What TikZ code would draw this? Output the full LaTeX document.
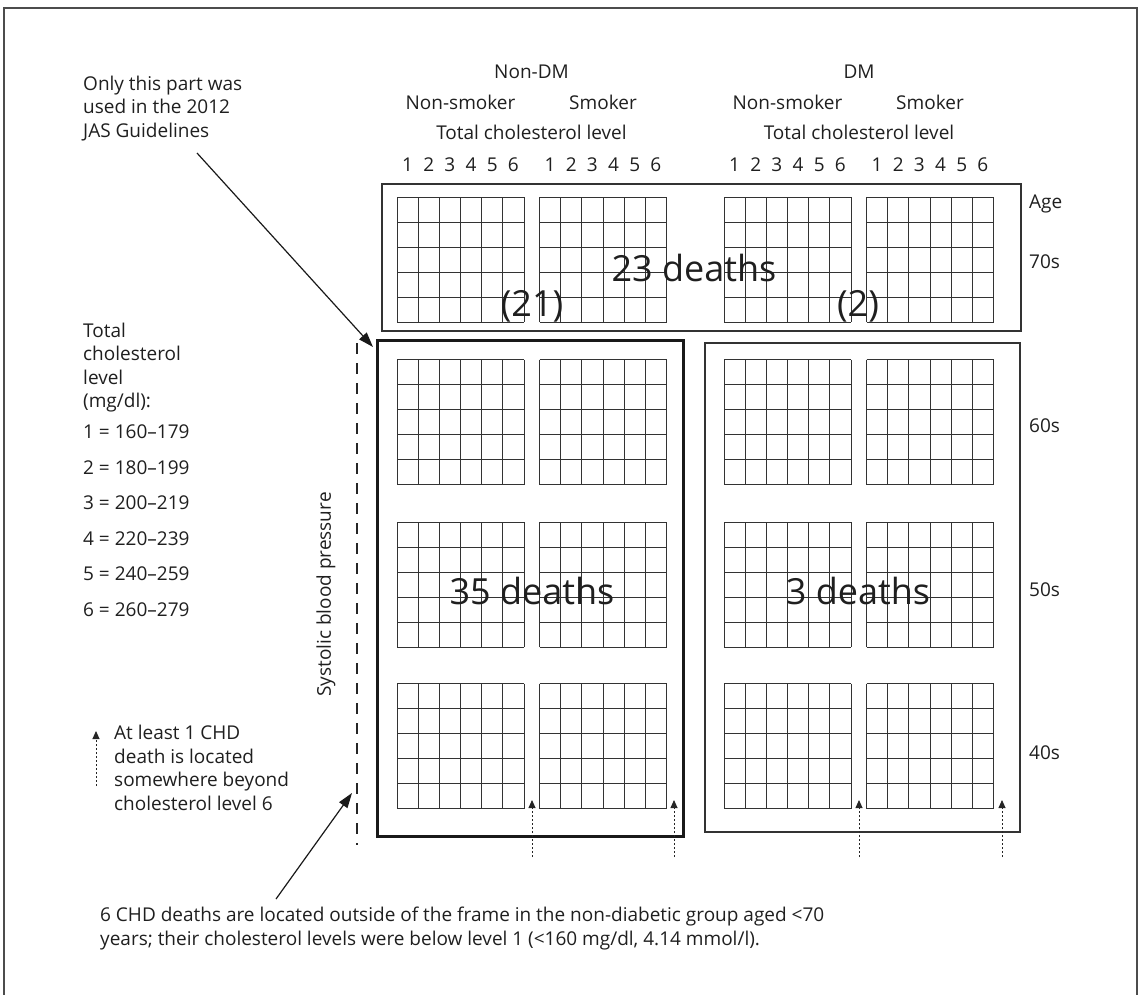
\documentclass[tikz,border=0pt]{standalone}
\usepackage{fontspec}
\setmainfont{Open Sans}
\usetikzlibrary{arrows.meta}
\newcommand\cholgrid[2]{%
  \begin{scope}[shift={(#1,#2)}]
    \foreach \i in {0,...,6} \draw[gridline] ({\i*127/6},0) -- ({\i*127/6},125);
    \foreach \j in {0,...,5} \draw[gridline] (0,{\j*25}) -- (127,{\j*25});
  \end{scope}}
\begin{document}
\begin{tikzpicture}[x=1pt,y=-1pt,
  lbl/.style={font=\fontsize{19}{23.5}\selectfont, inner sep=0pt, text=black!88},
  big/.style={font=\fontsize{36}{40}\selectfont, inner sep=0pt, text=black!88},
  gridline/.style={draw=black!80, line width=0.9pt},
  thinbox/.style={draw=black!80, line width=1.4pt},
  thickbox/.style={draw=black!90, line width=3pt},
  ptr/.style={draw=black!90, line width=1.2pt, -{Triangle[length=15pt,width=10pt]}},
  dotarrow/.style={draw=black!85, line width=0.9pt, dash pattern=on 2pt off 2pt, -{Triangle[length=8pt,width=7pt]}},
  vdash/.style={draw=black!85, line width=1.2pt, dash pattern=on 11pt off 9pt}]
\useasboundingbox (0,0) rectangle (1141,994);
% outer frame
\draw[draw=black!70, line width=1.2pt] (4,1000) -- (4,8) -- (1137,8) -- (1137,1000);
% boxes
\draw[thinbox] (382,184) rectangle (1021,331);
\draw[thickbox] (377,340) rectangle (683,836);
\draw[thinbox] (705,343) rectangle (1020,832);
% grids
\foreach \gx in {397,539.5,724,866.5} {
  \foreach \gy in {197,359.5,522,683.5} {
    \cholgrid{\gx}{\gy}
  }
}
% header
\node[lbl, anchor=base] (nondm) at (531.5,78.5) {Non-DM};
\node[lbl, anchor=base] (dm) at (859,78.5) {DM};
\node[lbl, anchor=base] (ns1) at (460.5,109.5) {Non-smoker};
\node[lbl, anchor=base] (sm1) at (603,109.5) {Smoker};
\node[lbl, anchor=base] (ns2) at (787.5,109.5) {Non-smoker};
\node[lbl, anchor=base] (sm2) at (930,109.5) {Smoker};
\node[lbl, anchor=base] (tc1) at (531.5,139.5) {Total cholesterol level};
\node[lbl, anchor=base] (tc2) at (859,139.5) {Total cholesterol level};
\foreach \gx [count=\g] in {397,539.5,724,866.5} {
  \foreach \k in {1,...,6} {
    \node[lbl, anchor=base] (num\g-\k) at ({\gx+(\k-0.5)*127/6},171.5) {\k};
  }
}
% ages
\node[lbl, anchor=base west] (age) at (1029,208.5) {Age};
\node[lbl, anchor=base west] (a70) at (1029,268.5) {70s};
\node[lbl, anchor=base west] (a60) at (1029,432.5) {60s};
\node[lbl, anchor=base west] (a50) at (1029,596.5) {50s};
\node[lbl, anchor=base west] (a40) at (1029,759.5) {40s};
% big labels
\node[big, anchor=base] (d23) at (694,281) {23 deaths};
\node[big, anchor=base] (p21) at (532,316) {(21)};
\node[big, anchor=base] (p2) at (858,316) {(2)};
\node[big, anchor=base] (d35) at (532,604) {35 deaths};
\node[big, anchor=base] (d3) at (858,604) {3 deaths};
% left notes (base anchor = baseline of the last line)
\node[lbl, anchor=base west, align=left] (only) at (83,137) {Only this part was\\used in the 2012\\JAS Guidelines};
\node[lbl, anchor=base west, align=left] (tcl) at (83,407.5) {Total\\cholesterol\\level\\(mg/dl):};
\node[lbl, anchor=base west] (l1) at (83,438.5) {1 = 160–179};
\node[lbl, anchor=base west] (l2) at (83,474) {2 = 180–199};
\node[lbl, anchor=base west] (l3) at (83,509.5) {3 = 200–219};
\node[lbl, anchor=base west] (l4) at (83,545) {4 = 220–239};
\node[lbl, anchor=base west] (l5) at (83,580.5) {5 = 240–259};
\node[lbl, anchor=base west] (l6) at (83,616.5) {6 = 260–279};
\node[lbl, anchor=base west, align=left] (atleast) at (114,810) {At least 1 CHD\\death is located\\somewhere beyond\\cholesterol level 6};
\node[lbl, rotate=90, anchor=center] (sbp) at (326,594.5) {Systolic blood pressure};
\node[lbl, anchor=base west, align=left] (six) at (100,945) {6 CHD deaths are located outside of the frame in the non-diabetic group aged <70\\years; their cholesterol levels were below level 1 (<160 mg/dl, 4.14 mmol/l).};
% dashed line
\coordinate (dtop) at (357,343);
\coordinate (dbot) at (357,845);
\draw[vdash] (dtop) -- (dbot);
% pointer arrows
\coordinate (onlytail) at (197,153);
\coordinate (onlytip) at (373,347);
\draw[ptr] (onlytail) -- (onlytip);
\coordinate (sixtail) at (276,899);
\coordinate (sixtip) at (352,793);
\draw[ptr] (sixtail) -- (sixtip);
% dotted arrows
\coordinate (lgtail) at (96,786);
\coordinate (lgtip) at (96,731);
\draw[dotarrow] (lgtail) -- (lgtip);
\foreach \ax [count=\n] in {532,674,859,1002} {
  \coordinate (bt\n) at (\ax,857);
  \coordinate (bh\n) at (\ax,800);
  \draw[dotarrow] (bt\n) -- (bh\n);
}
\end{tikzpicture}
\end{document}
